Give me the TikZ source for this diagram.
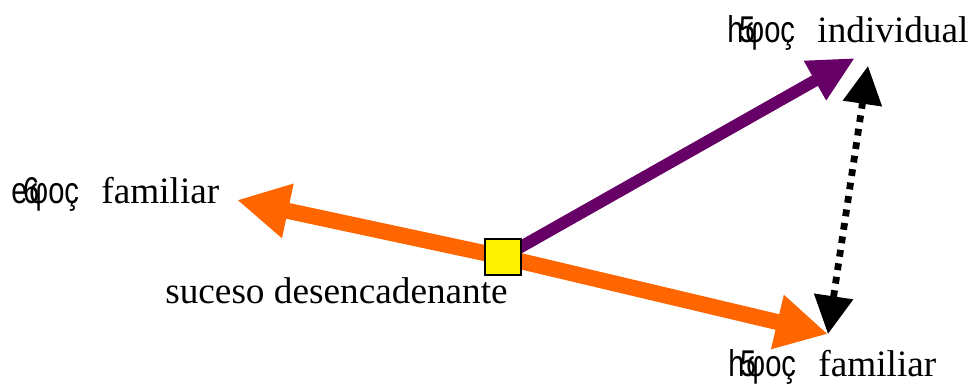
\documentclass[tikz,border=0pt]{standalone}
\usepackage{graphicx}
\usepackage{fontspec}
\setmainfont{Liberation Serif}
\newfontfamily\garbfont{Liberation Sans}
\usetikzlibrary{arrows.meta}

% garbled prefix as printed: first letter, overlapping digit, then phi o c
\newcommand{\garb}[2]{\scalebox{0.78}[1]{\garbfont #1\kern-0.15em\rlap{#2}\kern0.22em φoç}\hspace{0.6em}}

\begin{document}
\begin{tikzpicture}[x=0.025cm,y=-0.025cm,
  lbl/.style={inner sep=0pt,anchor=base west,font=\fontsize{26.5}{30}\selectfont},
  orangearrow/.style={draw=orangeA,line width=0.4cm,-{Triangle[length=1.3cm,width=1.3cm]}},
  purplearrow/.style={draw=purpleA,line width=0.3cm,-{Triangle[length=1.15cm,width=1.05cm]}},
  dotarrow/.style={line width=0.17cm,dash pattern=on 0.17cm off 0.17cm,
    {Triangle[length=0.95cm,width=0.95cm]}-{Triangle[length=0.95cm,width=0.95cm]}}]
\definecolor{orangeA}{HTML}{FF6600}
\definecolor{purpleA}{HTML}{660066}
\useasboundingbox (0,0) rectangle (968,387);

\coordinate (evento) at (503,257);
\coordinate (tipfam) at (237,200);
\coordinate (tipind) at (855,58);
\coordinate (tiphfam) at (828,334);
\coordinate (tipindb) at (868,66);

\draw[orangearrow] (evento) -- (tipfam);
\draw[orangearrow] (evento) -- (tiphfam);
\draw[purplearrow] (evento) -- (tipind);
\draw[dotarrow] (tipindb) -- (tiphfam);

\node[draw,fill=yellow,line width=0.9pt,minimum size=0.9cm,inner sep=0pt] (suceso) at (evento) {};

\node[lbl] (individual) at (727,43) {\garb{h}{5}individual};
\node[lbl] (familiar) at (11,203) {\garb{e}{6}familiar};
\node[lbl] (hfamiliar) at (728,376) {\garb{h}{5}familiar};
\node[lbl] (desenc) at (165,303) {suceso desencadenante};

\end{tikzpicture}
\end{document}
